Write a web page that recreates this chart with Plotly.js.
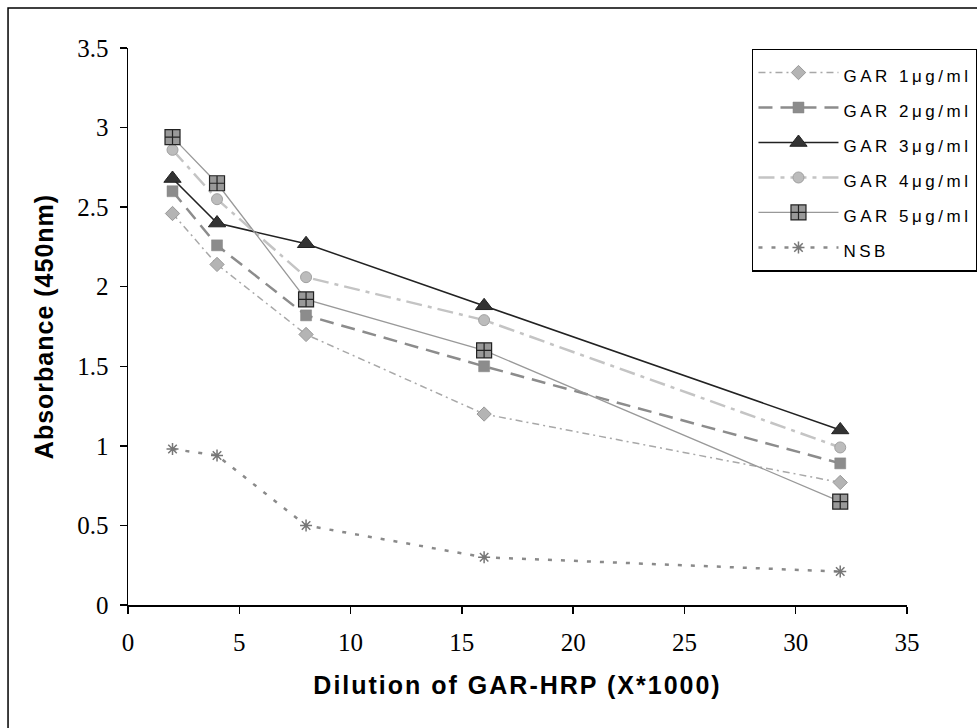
<!DOCTYPE html>
<html>
<head>
<meta charset="utf-8">
<script src="https://cdn.plot.ly/plotly-3.0.1.min.js"></script>
<style>html,body{margin:0;padding:0;background:#fff;}</style>
</head>
<body>
<div id="chart" style="width:977px;height:728px;"></div>
<script>
const dilution = [2, 4, 8, 16, 32];
const seriesNames = ['GAR 1μg/ml', 'GAR 2μg/ml', 'GAR 3μg/ml', 'GAR 4μg/ml', 'GAR 5μg/ml', 'NSB'];
const gar1 = [2.46, 2.14, 1.70, 1.20, 0.77];
const gar2 = [2.60, 2.26, 1.82, 1.50, 0.89];
const gar3 = [2.68, 2.40, 2.27, 1.88, 1.10];
const gar4 = [2.86, 2.55, 2.06, 1.79, 0.99];
const gar5 = [2.94, 2.65, 1.92, 1.60, 0.65];
const nsb  = [0.98, 0.94, 0.50, 0.30, 0.21];
const xTicks = [0, 5, 10, 15, 20, 25, 30, 35];
const yTicks = [0, 0.5, 1, 1.5, 2, 2.5, 3, 3.5];

const styles = [
  {line:{color:'#a8a8a8', width:1.5, dash:'7px,4px,2px,4px'}, marker:{symbol:'diamond', size:11, color:'#b4b4b4', line:{color:'#999', width:1}}},
  {line:{color:'#8c8c8c', width:2.5, dash:'14px,8px'}, marker:{symbol:'square', size:11, color:'#8c8c8c', line:{color:'#888', width:0.5}}},
  {line:{color:'#222', width:1.5}, marker:{symbol:'triangle-up', size:15, color:'#333', line:{color:'#222', width:1}}},
  {line:{color:'#c4c4c4', width:2.5, dash:'16px,6px,4px,6px'}, marker:{symbol:'circle', size:11, color:'#bcbcbc', line:{color:'#a0a0a0', width:1}}},
  {line:{color:'#999', width:1.3}, marker:{symbol:'square-cross', size:15, color:'#999', line:{color:'#222', width:1.2}}},
  {line:{color:'#8a8a8a', width:2.5, dash:'4px,9px'}, marker:{symbol:'asterisk-open', size:10, color:'#777', line:{color:'#777', width:1.5}}}
];
const values = [gar1, gar2, gar3, gar4, gar5, nsb];

const traces = values.map((v, i) => ({
  x: dilution, y: v, type:'scatter', mode:'lines+markers',
  name: '<span style="font-size:17px;letter-spacing:3.5px">' + seriesNames[i] + '</span>',
  line: styles[i].line, marker: styles[i].marker
}));

const titleFont = {family:'Liberation Sans, Arial, sans-serif', size:25, color:'#000', weight:'bold'};
const tickFont = {family:'Liberation Serif, Times New Roman, serif', size:25, color:'#000'};

const layout = {
  width:977, height:728,
  margin:{l:128, r:70, t:48, b:123, pad:0, autoexpand:false},
  paper_bgcolor:'#fff', plot_bgcolor:'#fff',
  showlegend:true,
  legend:{x:0.801, y:0.999, xanchor:'left', yanchor:'top', bordercolor:'#000', borderwidth:1.5, bgcolor:'#fff',
    font:{family:'Liberation Sans, Arial, sans-serif', size:24.6, color:'#000'}, itemwidth:80, tracegroupgap:0},
  xaxis:{range:[0,35], tickvals:xTicks, ticktext:xTicks.map(String), showgrid:false, zeroline:false,
    showline:true, linecolor:'#000', linewidth:1.5, ticks:'outside', ticklen:7, tickwidth:1.5, tickcolor:'#000',
    tickfont:tickFont, ticklabelstandoff:7,
    title:{text:'<span style="letter-spacing:2px">Dilution of GAR-HRP (X*1000)</span>', font:titleFont, standoff:22}},
  yaxis:{range:[0,3.5], tickvals:yTicks, ticktext:yTicks.map(String), showgrid:false, zeroline:false,
    showline:true, linecolor:'#000', linewidth:1.5, ticks:'outside', ticklen:7, tickwidth:1.5, tickcolor:'#000',
    tickfont:tickFont, ticklabelstandoff:6,
    title:{text:'<span style="letter-spacing:1px">Absorbance (450nm)</span>', font:titleFont, standoff:16}},
  shapes:[{type:'rect', xref:'paper', yref:'paper', x0:-0.154, x1:1.3, y0:-0.4, y1:1.0718, line:{color:'#000', width:1.5}, fillcolor:'rgba(0,0,0,0)', layer:'below'}]
};

Plotly.newPlot('chart', traces, layout, {displayModeBar:false, staticPlot:true});
</script>
</body>
</html>
